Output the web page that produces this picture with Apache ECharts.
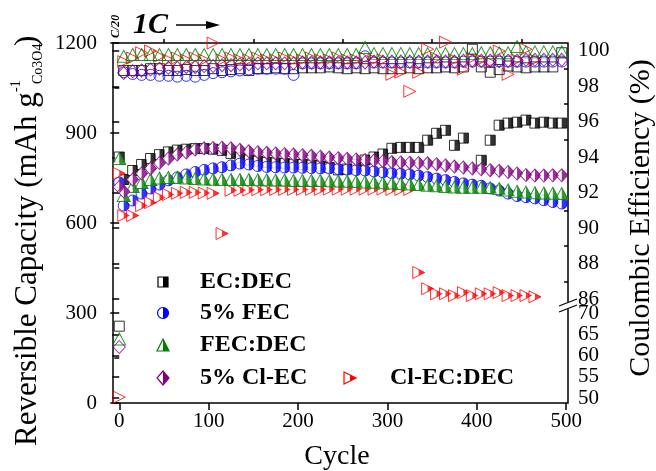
<!DOCTYPE html>
<html><head><meta charset="utf-8">
<script src="https://cdn.jsdelivr.net/npm/echarts@6/dist/echarts.min.js"></script>
<style>html,body{margin:0;padding:0;background:#fff}#c{width:656px;height:471px}</style>
</head><body><div id="c"></div>
<script>
// cycle numbers of the plotted markers (0 = C/20 formation cycle)
const cycles = [0,5,15,25,35,45,55,65,75,85,95,105,115,125,135,145,155,165,175,185,195,205,215,225,235,245,255,265,275,285,295,305,315,325,335,345,355,365,375,385,395,405,415,425,435,445,455,465,475,485,495];

// Reversible capacity (mAh g-1)
const capEC = [820,745,775,795,815,828,837,843,846,848,848,846,842,832,818,810,806,802,800,798,796,795,793,790,785,777,780,795,810,820,830,849,852,852,852,876,899,909,859,883,null,809,876,926,933,936,943,933,936,933,933];
const capFEC = [735,658,675,698,715,728,742,752,762,770,777,782,786,792,798,795,790,787,786,785,785,784,783,782,782,780,778,776,775,772,769,766,764,762,758,753,748,743,737,732,728,724,715,708,698,690,686,682,676,670,665];
const capFECDEC = [815,692,722,735,745,750,752,752,750,748,747,746,745,745,745,745,744,744,743,743,742,742,742,742,741,740,739,738,737,736,734,733,732,730,728,726,724,722,720,719,719,719,718,715,710,706,703,701,700,699,698];
const capClEC = [720,705,745,765,782,800,815,828,835,845,849,850,851,849,844,839,836,834,832,830,828,826,824,821,818,816,814,812,810,808,806,803,802,801,800,799,796,792,788,785,782,779,776,774,770,765,760,758,758,759,759];
const capClECDEC = [765,625,625,658,668,685,695,699,702,702,700,699,565,709,709,710,711,711,712,712,712,712,712,712,713,713,713,713,713,713,713,712,712,712,435,381,364,364,358,368,358,364,364,368,358,358,358,354,null,null,null];

// Coulombic efficiency (%)
const ceEC = [66.9,98.9,98.9,98.9,99.0,99.0,98.9,98.9,98.95,98.9,98.9,99.0,98.9,98.95,99.0,98.9,99.0,99.0,99.05,99.0,99.0,99.05,99.05,99.05,99.1,99.05,99.0,99.05,99.0,99.05,99.0,99.0,99.0,99.05,99.0,99.05,99.05,99.1,99.05,99.1,100.1,99.1,98.8,98.95,99.15,99.1,99.05,99.1,99.1,99.1,99.9];
const ceFEC = [null,98.8,98.7,98.65,98.65,98.6,98.6,98.55,98.6,98.55,98.65,98.75,98.8,98.85,98.9,98.95,99.0,99.0,99.0,99.0,98.65,99.3,99.3,99.3,99.3,99.3,99.3,99.3,99.7,99.35,99.35,99.35,99.35,99.35,99.35,99.35,99.35,99.35,99.35,99.4,99.4,99.4,99.4,99.4,99.4,99.4,99.4,99.4,99.4,99.4,99.4];
const ceFECDEC = [63.9,99.7,99.8,99.8,99.8,99.8,99.8,99.8,99.8,99.8,99.8,99.8,99.8,99.8,99.8,99.8,99.8,99.8,99.8,99.8,99.8,99.8,99.8,99.8,99.8,99.8,99.8,99.8,100.2,99.85,99.85,99.85,99.85,99.85,99.85,99.85,99.85,99.85,99.85,99.85,99.85,99.9,99.9,99.9,99.9,100.25,99.95,99.95,99.95,99.95,99.95];
const ceClEC = [62.0,98.75,98.85,98.9,98.95,99.0,99.05,99.05,99.1,99.1,99.15,99.15,99.2,99.2,99.25,99.25,99.3,99.3,99.3,99.3,99.3,99.35,99.35,99.35,99.35,99.35,99.35,99.35,99.35,99.4,99.4,99.4,99.4,99.4,99.4,99.4,99.4,99.4,99.4,99.45,99.45,99.45,99.45,99.45,99.45,99.45,99.5,99.5,99.5,99.5,99.5];
const ceClECDEC = [50.2,99.4,99.6,99.9,100.0,99.7,99.5,99.6,99.5,99.6,99.5,100.45,99.5,99.6,99.5,99.5,99.6,99.5,99.5,99.6,99.5,99.5,99.6,99.5,99.5,99.6,99.5,99.5,99.6,99.5,99.5,98.68,98.8,97.72,98.8,100.1,99.6,100.5,99.5,98.97,99.6,99.5,99.36,100.0,98.68,99.5,100.1,99.5,null,null,null];

// tick values
const xTicks = [0,100,200,300,400,500];
const xMinorTicks = [50,150,250,350,450];
const ceUpperTicks = [86,88,90,92,94,96,98,100];
const ceUpperMinor = [87,89,91,93,95,97,99];
const ceLowerTicks = [50,55,60,65,70];

const names = ['EC:DEC','5% FEC','FEC:DEC','5% Cl-EC','Cl-EC:DEC'];
const colors = ['#000000','#0000ff','#008000','#800080','#ff0000'];

const FONT = '"Liberation Serif","Times New Roman",serif';
const chart = echarts.init(document.getElementById('c'));

function pairs(vals, filter){
  const out=[];
  vals.forEach((v,i)=>{ if(v!=null && (!filter||filter(v))) out.push([cycles[i],v]); });
  return out;
}
const shapes = {
  square:{open:'rect', half:'rect', size:[10,10], tall:true},
  circle:{open:'circle', half:'path://M0,0A10,10,0,0,1,0,20Z', size:[11,11], tall:true},
  triUp:{open:'triangle', half:'path://M0,0L10,20L0,20Z', size:[13,12], tall:true},
  diamond:{open:'diamond', half:'path://M0,0L10,10L0,20Z', size:[12,13], tall:true},
  triRight:{open:'path://M0,0L20,10L0,20Z', half:'path://M0,0L10,5L0,10Z', size:[12,12], tall:false}
};
const base = {type:'scatter', silent:true, clip:false, animation:false};
function capSeries(vals,color,key){
  const s=shapes[key], w=s.size[0], h=s.size[1], data=pairs(vals);
  return [
    Object.assign({},base,{xAxisIndex:0,yAxisIndex:0,data,symbol:s.open,symbolSize:s.size,itemStyle:{color:'#fff',borderColor:color,borderWidth:1}}),
    Object.assign({},base,{xAxisIndex:0,yAxisIndex:0,data,symbol:s.half,symbolSize:s.tall?[w/2,h]:[w/2,h/2],symbolOffset:[w/4,0],itemStyle:{color:color,borderWidth:0}})
  ];
}
function ceSeries(vals,color,key){
  const s=shapes[key];
  const st={color:'rgba(0,0,0,0)',borderColor:color,borderWidth:1};
  return [
    Object.assign({},base,{xAxisIndex:2,yAxisIndex:1,data:pairs(vals,v=>v>=80),symbol:s.open,symbolSize:s.size,itemStyle:st}),
    Object.assign({},base,{xAxisIndex:3,yAxisIndex:3,data:pairs(vals,v=>v<80),symbol:s.open,symbolSize:s.size,itemStyle:st})
  ];
}
const series = [].concat(
  capSeries(capEC,colors[0],'square'),
  capSeries(capFEC,colors[1],'circle'),
  capSeries(capClECDEC,colors[4],'triRight'),
  capSeries(capFECDEC,colors[2],'triUp'),
  capSeries(capClEC,colors[3],'diamond'),
  ceSeries(ceEC,colors[0],'square'),
  ceSeries(ceFEC,colors[1],'circle'),
  ceSeries(ceClECDEC,colors[4],'triRight'),
  ceSeries(ceFECDEC,colors[2],'triUp'),
  ceSeries(ceClEC,colors[3],'diamond')
);

const lab = {color:'#000', fontFamily:FONT, fontSize:21, formatter:v=>String(v)};
const tickStyle = {color:'#000', width:1.5};
const XMIN=-7, XMAX=502;
const hiddenX = gi => ({gridIndex:gi,type:'value',min:XMIN,max:XMAX,show:false});

function txt(x,y,text,opt){
  return Object.assign({type:'text',x:x,y:y,z:100,style:Object.assign({text:text,fill:'#000',fontFamily:FONT,fontSize:20,align:'left',verticalAlign:'middle',textAlign:'left',textVerticalAlign:'middle'},opt.style||{})},opt.el||{});
}
const R = Math.PI/2;
const graphics = [
  // axis break on right axis
  {type:'rect',z:100,shape:{x:562,y:302,width:12,height:7},style:{fill:'#fff'}},
  {type:'line',z:101,shape:{x1:559,y1:306,x2:577,y2:299},style:{stroke:'#000',lineWidth:1.2}},
  {type:'line',z:101,shape:{x1:559,y1:312,x2:577,y2:305},style:{stroke:'#000',lineWidth:1.2}},
  // rate annotations
  txt(116,38,'C/20',{el:{rotation:R},style:{fontSize:12,fontWeight:'bold',fontStyle:'italic'}}),
  txt(133,25,'1C',{style:{fontSize:30,fontWeight:'bold',fontStyle:'italic'}}),
  {type:'line',z:100,shape:{x1:176,y1:25,x2:210,y2:25},style:{stroke:'#000',lineWidth:1.5}},
  {type:'polygon',z:100,shape:{points:[[206,21],[220,25],[206,29]]},style:{fill:'#000'}},
  // left axis title
  txt(28,446,'Reversible Capacity (mAh g',{el:{rotation:R},style:{fontSize:31}}),
  txt(16,92,'-1',{el:{rotation:R},style:{fontSize:14}}),
  txt(38,84,'Co3O4',{el:{rotation:R},style:{fontSize:14}}),
  txt(28,46,')',{el:{rotation:R},style:{fontSize:31}}),
  // right axis title
  txt(641,218,'Coulombic Efficiency (%)',{el:{rotation:R},style:{fontSize:30,align:'center',textAlign:'center'}}),
  // x axis title
  txt(337,457,'Cycle',{style:{fontSize:28,align:'center',textAlign:'center'}})
];
// legend
const legY=[282,313,345,378];
const legStyle={fontSize:24,fontWeight:'bold'};
function legMarker(i,cx,cy){
  const c=colors[i], open={fill:'#fff',stroke:c,lineWidth:1.2}, fill={fill:c};
  const g=[];
  if(i===0){g.push({type:'rect',shape:{x:cx-5,y:cy-5,width:10,height:10},style:open},{type:'rect',shape:{x:cx,y:cy-5,width:5,height:10},style:fill});}
  if(i===1){g.push({type:'circle',shape:{cx:cx,cy:cy,r:5.5},style:open},{type:'sector',shape:{cx:cx,cy:cy,r:5.5,r0:0,startAngle:-Math.PI/2,endAngle:Math.PI/2,clockwise:true},style:fill});}
  if(i===2){g.push({type:'polygon',shape:{points:[[cx,cy-6],[cx+6,cy+6],[cx-6,cy+6]]},style:open},{type:'polygon',shape:{points:[[cx,cy-6],[cx+6,cy+6],[cx,cy+6]]},style:fill});}
  if(i===3){g.push({type:'polygon',shape:{points:[[cx,cy-7],[cx+6,cy],[cx,cy+7],[cx-6,cy]]},style:open},{type:'polygon',shape:{points:[[cx,cy-7],[cx+6,cy],[cx,cy+7]]},style:fill});}
  if(i===4){g.push({type:'polygon',shape:{points:[[cx-6,cy-6],[cx+6,cy],[cx-6,cy+6]]},style:open},{type:'polygon',shape:{points:[[cx,cy-3],[cx+6,cy],[cx,cy+3]]},style:fill});}
  g.forEach(e=>{e.z=100;});
  return g;
}
for(let i=0;i<4;i++){
  graphics.push(...legMarker(i,163,legY[i]));
  graphics.push(txt(200,legY[i],names[i],{style:legStyle}));
}
graphics.push(...legMarker(4,350,legY[3]));
graphics.push(txt(390,legY[3],names[4],{style:legStyle}));

chart.setOption({
  animation:false,
  backgroundColor:'#fff',
  grid:[
    {left:113,right:88,top:43,bottom:68,show:true,borderColor:'#000',borderWidth:1.5,backgroundColor:'rgba(0,0,0,0)'},
    {left:113,right:88,top:43,height:256,show:false},
    {left:113,right:88,top:313,height:85,show:false}
  ],
  xAxis:[
    {gridIndex:0,type:'value',min:XMIN,max:XMAX,axisLine:{show:false},splitLine:{show:false},
     axisTick:{show:true,customValues:xTicks,length:7,lineStyle:tickStyle},
     axisLabel:Object.assign({customValues:xTicks,margin:8},lab)},
    {gridIndex:0,type:'value',min:XMIN,max:XMAX,axisLine:{show:false},splitLine:{show:false},
     axisTick:{show:true,customValues:xMinorTicks,length:4,lineStyle:tickStyle},
     axisLabel:{show:false}},
    hiddenX(1), hiddenX(2)
  ],
  yAxis:[
    {gridIndex:0,type:'value',position:'left',min:0,max:1200,interval:300,axisLine:{show:false},splitLine:{show:false},
     axisTick:{show:true,length:9,lineStyle:tickStyle},
     minorTick:{show:true,splitNumber:2,length:5,lineStyle:tickStyle},minorSplitLine:{show:false},
     axisLabel:Object.assign({margin:16},lab)},
    {gridIndex:1,type:'value',position:'right',min:86,max:100.45,axisLine:{show:false},splitLine:{show:false},
     axisTick:{show:true,inside:true,customValues:ceUpperTicks,length:7,lineStyle:tickStyle},
     axisLabel:Object.assign({customValues:ceUpperTicks,margin:10},lab)},
    {gridIndex:1,type:'value',position:'right',min:86,max:100.45,axisLine:{show:false},splitLine:{show:false},
     axisTick:{show:true,inside:true,customValues:ceUpperMinor,length:4,lineStyle:tickStyle},
     axisLabel:{show:false}},
    {gridIndex:2,type:'value',position:'right',min:50,max:70,axisLine:{show:false},splitLine:{show:false},
     axisTick:{show:true,inside:true,customValues:ceLowerTicks,length:7,lineStyle:tickStyle},
     axisLabel:Object.assign({customValues:ceLowerTicks,margin:10},lab)}
  ],
  series:series,
  graphic:{elements:graphics}
});
</script></body></html>
